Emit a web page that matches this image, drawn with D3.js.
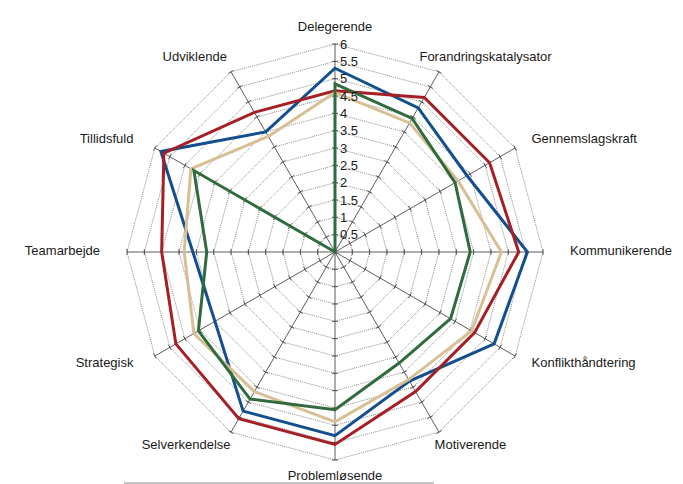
<!DOCTYPE html>
<html>
<head>
<meta charset="utf-8">
<script src="https://cdn.jsdelivr.net/npm/d3@7"></script>
<style>
  body { margin: 0; background: #fff; }
  text { font-family: "Liberation Sans", Arial, sans-serif; fill: #1a1a1a; }
</style>
</head>
<body>
<div id="radar"></div>
<script>
var categories = ["Delegerende", "Forandringskatalysator", "Gennemslagskraft", "Kommunikerende",
    "Konflikthåndtering", "Motiverende", "Problemløsende", "Selverkendelse",
    "Strategisk", "Teamarbejde", "Tillidsfuld", "Udviklende"];

var blueValues  = [5.3, 4.8, 4.4, 5.55, 5.3, 4.3, 5.3, 5.3, 4.0, 4.1, 5.8, 4.0];
var redValues   = [4.65, 5.15, 5.15, 5.3, 4.65, 4.65, 5.55, 5.55, 5.3, 5.0, 5.7, 4.65];
var tanValues   = [4.6, 4.3, 4.1, 4.8, 4.55, 4.25, 4.9, 4.65, 4.7, 4.35, 4.8, 3.85];
var greenValues = [4.85, 4.45, 4.0, 3.9, 3.85, 3.7, 4.55, 4.9, 4.55, 3.7, 4.7, 0];

var tickValues = [0.5, 1, 1.5, 2, 2.5, 3, 3.5, 4, 4.5, 5, 5.5, 6];

var svgWidth = 683;
var svgHeight = 484;
var cx = 335, cy = 252;

var svg = d3.select("#radar")
    .append("svg")
    .attr("width", svgWidth)
    .attr("height", svgHeight);

var chartGroup = svg.append("g")
    .attr("transform", `translate(${cx}, ${cy})`);

var rScale = d3.scaleLinear().domain([0, 6]).range([0, 208]);
var angleScale = d3.scaleLinear().domain([0, categories.length]).range([0, 2 * Math.PI]);

function pt(i, v) {
    var a = angleScale(i);
    return [rScale(v) * Math.sin(a), -rScale(v) * Math.cos(a)];
}

// dotted rings
var ringLine = d3.line().curve(d3.curveLinearClosed);
chartGroup.selectAll(".ring")
    .data(tickValues)
    .enter()
    .append("path")
    .attr("d", v => ringLine(categories.map((c, i) => pt(i, v))))
    .attr("fill", "none")
    .attr("stroke", "#8c8c8c")
    .attr("stroke-width", 1)
    .attr("stroke-dasharray", "1,1");

// spokes
chartGroup.selectAll(".spoke")
    .data(categories)
    .enter()
    .append("line")
    .attr("x1", 0).attr("y1", 0)
    .attr("x2", (c, i) => pt(i, 6)[0])
    .attr("y2", (c, i) => pt(i, 6)[1])
    .attr("stroke", "#333")
    .attr("stroke-width", 0.8);

// tick marks on each spoke
categories.forEach(function(c, i) {
    var a = angleScale(i);
    var px = Math.cos(a) * 3, py = Math.sin(a) * 3;
    chartGroup.selectAll(null)
        .data(tickValues)
        .enter()
        .append("line")
        .attr("x1", v => pt(i, v)[0] - px)
        .attr("y1", v => pt(i, v)[1] - py)
        .attr("x2", v => pt(i, v)[0] + px)
        .attr("y2", v => pt(i, v)[1] + py)
        .attr("stroke", "#333")
        .attr("stroke-width", 0.8);
});

// series
var series = [
    { values: blueValues, color: "#134f8e" },
    { values: redValues, color: "#a51f24" },
    { values: tanValues, color: "#d8bf95" },
    { values: greenValues, color: "#2f6b3c" }
];

chartGroup.selectAll(".series")
    .data(series)
    .enter()
    .append("path")
    .attr("d", s => ringLine(s.values.map((v, i) => pt(i, v))))
    .attr("fill", "none")
    .attr("stroke", s => s.color)
    .attr("stroke-width", 3)
    .attr("stroke-linejoin", "miter");

// value labels on the top spoke
chartGroup.selectAll(".tickLabel")
    .data(tickValues)
    .enter()
    .append("text")
    .attr("x", 5)
    .attr("y", v => -rScale(v))
    .attr("dy", "0.35em")
    .attr("font-size", 13)
    .text(v => v);

// category labels
var labels = chartGroup.selectAll(".catLabel")
    .data(categories)
    .enter()
    .append("text")
    .attr("font-size", 13)
    .attr("text-anchor", "middle")
    .attr("dy", "0.35em")
    .text(d => d);

labels.each(function(c, i) {
    var a = angleScale(i);
    var w = this.getComputedTextLength();
    var s = Math.sin(a), k = Math.cos(a);
    var f = s >= 0 ? s : -Math.sqrt(-s);
    var x = 235 * s + (w / 2) * f;
    var y = -218 * k - 6.5 * k - 1.5;
    d3.select(this).attr("x", x).attr("y", y);
});

// thin line under the chart
svg.append("line")
    .attr("x1", 124).attr("x2", 434)
    .attr("y1", 483).attr("y2", 483)
    .attr("stroke", "#888")
    .attr("stroke-width", 1);
</script>
</body>
</html>
